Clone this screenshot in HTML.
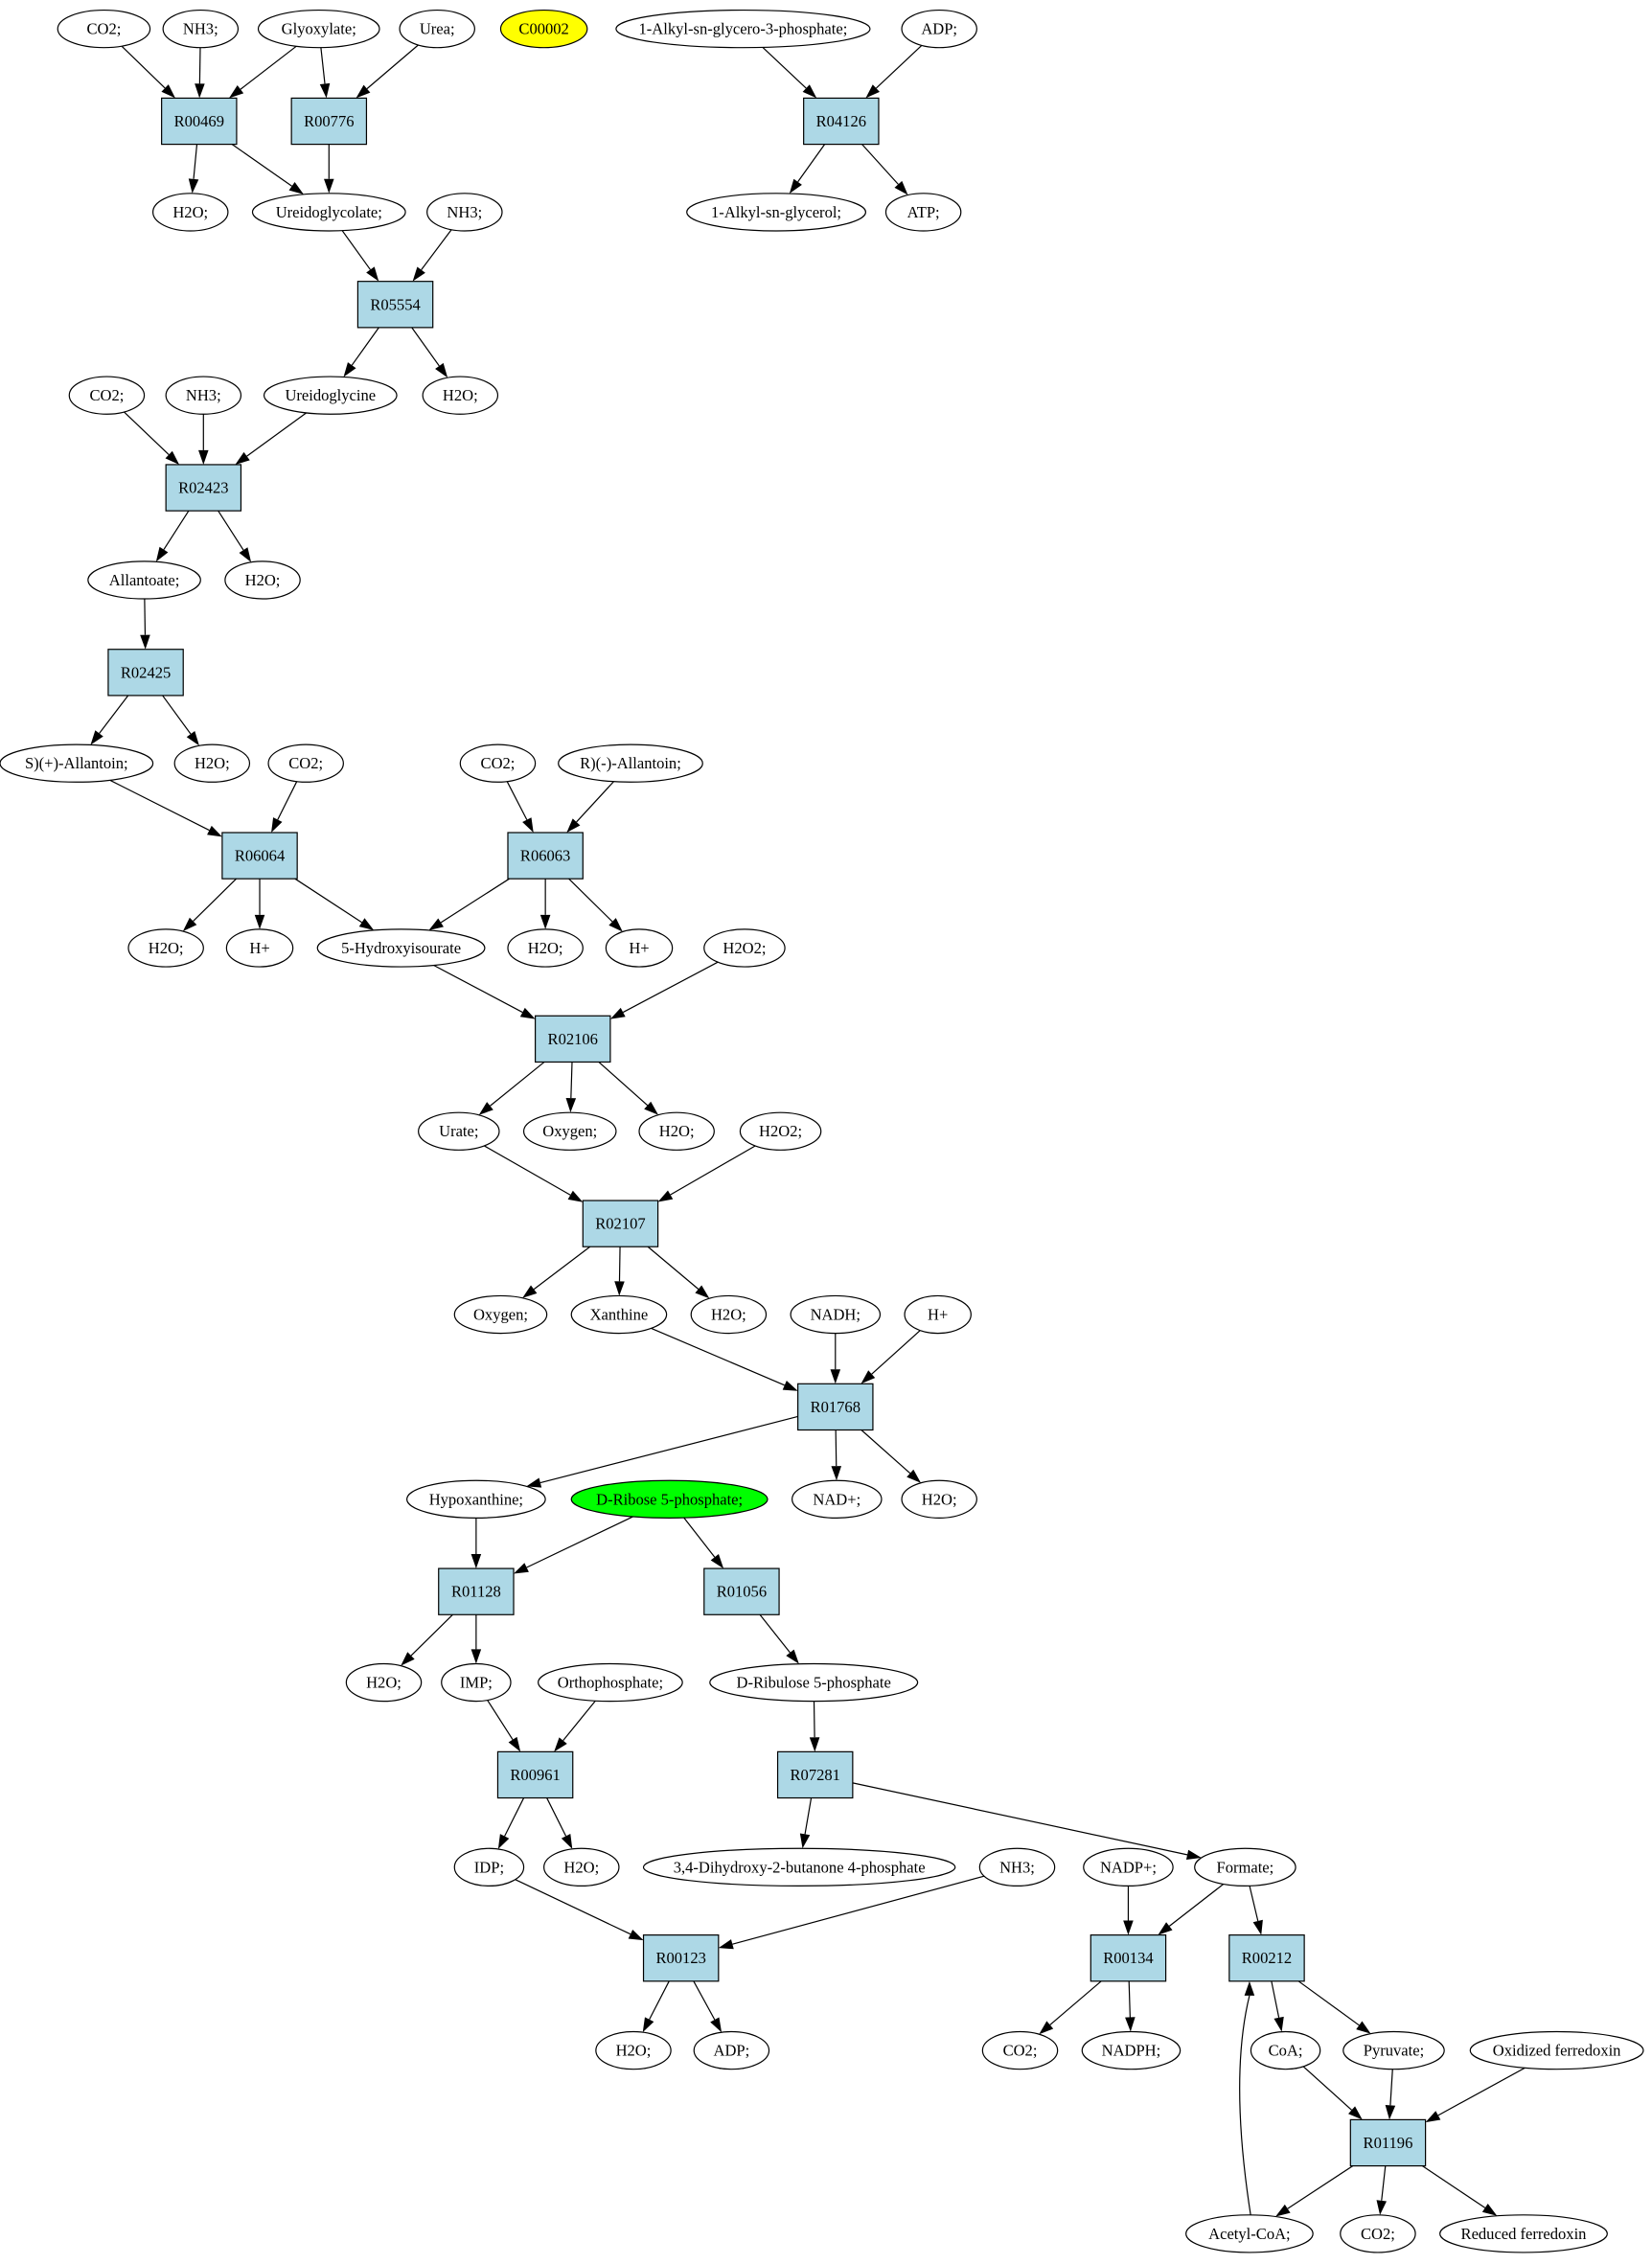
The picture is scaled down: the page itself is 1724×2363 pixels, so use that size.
<!DOCTYPE html>
<html><head><meta charset="utf-8"><style>
html,body{margin:0;padding:0;background:#fff}
svg{display:block}
text{font-family:"Liberation Serif",serif;font-size:11px;text-anchor:middle;dominant-baseline:central}
</style></head><body>
<svg id="s" width="1724" height="2363" viewBox="0 0 1145 1569" preserveAspectRatio="none" xmlns="http://www.w3.org/2000/svg"></svg>
<script>
const N={};
function E(id,x,y,rx,label,fill){N[id]={t:'e',x,y,rx,ry:13,label,fill:fill||'#fff'};}
function B(id,x,y){N[id]={t:'b',x,y,hw:26,hh:16,label:id,fill:'#add8e6'};}
E('co2a',72,20,32,'CO2;');E('nh3a',139,20,26,'NH3;');E('gly',221,20,42,'Glyoxylate;');E('urea',303,20,26,'Urea;');
E('c2',377,20,30,'C00002','#ffff00');E('akp',515,20,88,'1-Alkyl-sn-glycero-3-phosphate;');E('adpa',651,20,26,'ADP;');
B('R00469',138,84);B('R00776',228,84);B('R04126',583,84);
E('h2oa',132,147,26,'H2O;');E('ugc',228,147,53,'Ureidoglycolate;');E('nh3b',322,147,26,'NH3;');E('akg',538,147,62,'1-Alkyl-sn-glycerol;');E('atp',640,147,26,'ATP;');
B('R05554',274,211);
E('co2b',74,274,26,'CO2;');E('nh3c',141,274,26,'NH3;');E('ugy',229,274,46,'Ureidoglycine');E('h2ob',319,274,26,'H2O;');
B('R02423',141,338);
E('alla',100,402,39,'Allantoate;');E('h2oc',182,402,26,'H2O;');
B('R02425',101,466);
E('sall',53,529,53,'S)(+)-Allantoin;');E('h2od',147,529,26,'H2O;');E('co2c',212,529,26,'CO2;');E('co2d',345,529,26,'CO2;');E('rall',437,529,50,'R)(-)-Allantoin;');
B('R06064',180,593);B('R06063',378,593);
E('h2oe',115,657,26,'H2O;');E('hpa',180,657,23,'H+');E('hiu',278,657,58,'5-Hydroxyisourate');E('h2of',378,657,26,'H2O;');E('hpb',443,657,23,'H+');E('h2o2a',516,657,28,'H2O2;');
B('R02106',397,720);
E('urate',318,784,28,'Urate;');E('oxa',395,784,32,'Oxygen;');E('h2og',469,784,26,'H2O;');E('h2o2b',541,784,28,'H2O2;');
B('R02107',430,848);
E('oxb',347,911,32,'Oxygen;');E('xan',429,911,33,'Xanthine');E('h2oh',505,911,26,'H2O;');E('nadh',579,911,31,'NADH;');E('hpc',650,911,23,'H+');
B('R01768',579,975);
E('hyp',330,1039,48,'Hypoxanthine;');E('dr5p',464,1039,68,'D-Ribose 5-phosphate;','#00ff00');E('nad',580,1039,31,'NAD+;');E('h2oi',651,1039,26,'H2O;');
B('R01128',330,1103);B('R01056',514,1103);
E('h2oj',266,1166,26,'H2O;');E('imp',330,1166,24,'IMP;');E('orth',423,1166,50,'Orthophosphate;');E('dru',564,1166,72,'D-Ribulose 5-phosphate');
B('R00961',371,1230);B('R07281',565,1230);
E('idp',339,1294,24,'IDP;');E('h2ok',403,1294,26,'H2O;');E('dhb',554,1294,108,'3,4-Dihydroxy-2-butanone 4-phosphate');E('nh3d',705,1294,26,'NH3;');E('nadp',782,1294,31,'NADP+;');E('form',863,1294,35,'Formate;');
B('R00123',472,1357);B('R00134',782,1357);B('R00212',878,1357);
E('h2ol',439,1421,26,'H2O;');E('adpb',507,1421,26,'ADP;');E('co2e',707,1421,26,'CO2;');E('nadph',784,1421,34,'NADPH;');E('coa',891,1421,24,'CoA;');E('pyr',966,1421,35,'Pyruvate;');E('oxfd',1079,1421,60,'Oxidized ferredoxin');
B('R01196',962,1485);
E('acoa',866,1548,44,'Acetyl-CoA;');E('co2f',955,1548,26,'CO2;');E('rfd',1056,1548,58,'Reduced ferredoxin');
const ed=`co2a R00469,nh3a R00469,gly R00469,gly R00776,urea R00776,R00469 h2oa,R00469 ugc,R00776 ugc,akp R04126,adpa R04126,R04126 akg,R04126 atp,ugc R05554,nh3b R05554,R05554 ugy,R05554 h2ob,co2b R02423,nh3c R02423,ugy R02423,R02423 alla,R02423 h2oc,alla R02425,R02425 sall,R02425 h2od,sall R06064,co2c R06064,co2d R06063,rall R06063,R06064 h2oe,R06064 hpa,R06064 hiu,R06063 hiu,R06063 h2of,R06063 hpb,hiu R02106,h2o2a R02106,R02106 urate,R02106 oxa,R02106 h2og,urate R02107,h2o2b R02107,R02107 oxb,R02107 xan,R02107 h2oh,xan R01768,nadh R01768,hpc R01768,R01768 hyp,R01768 nad,R01768 h2oi,hyp R01128,dr5p R01128,dr5p R01056,R01128 h2oj,R01128 imp,R01056 dru,imp R00961,orth R00961,R00961 idp,R00961 h2ok,dru R07281,R07281 dhb,R07281 form,idp R00123,nh3d R00123,R00123 h2ol,R00123 adpb,nadp R00134,form R00134,R00134 co2e,R00134 nadph,form R00212,R00212 coa,R00212 pyr,coa R01196,pyr R01196,oxfd R01196,R01196 acoa,R01196 co2f,R01196 rfd,acoa R00212`.split(',');
function clip(n,dx,dy){let t;if(n.t=='e')t=1/Math.sqrt((dx/n.rx)**2+(dy/n.ry)**2);else t=Math.min(n.hw/Math.abs(dx||1e-9),n.hh/Math.abs(dy||1e-9));return [n.x+dx*t,n.y+dy*t];}
let s='';
for(const e of ed){const [a,b]=e.split(' ');const A=N[a],Bn=N[b];
 let dx=Bn.x-A.x,dy=Bn.y-A.y;
 let p=clip(A,dx,dy),q=clip(Bn,-dx,-dy);
 let ddx=q[0]-p[0],ddy=q[1]-p[1],L=Math.hypot(ddx,ddy),ux=ddx/L,uy=ddy/L;
 let bx=q[0]-ux*10,by=q[1]-uy*10;
 if(a=='acoa'){q=[Bn.x-12,Bn.y+16];bx=q[0];by=q[1]+10;ux=0;uy=-1;
  s+=`<path d="M${p[0]},${p[1]} Q852,1440 ${bx},${by}" fill="none" stroke="#000" stroke-width="0.8"/>`;}
 else s+=`<line x1="${p[0]}" y1="${p[1]}" x2="${bx}" y2="${by}" stroke="#000" stroke-width="0.8"/>`;
 let px=-uy*3.5,py=ux*3.5;
 s+=`<polygon points="${q[0]},${q[1]} ${bx+px},${by+py} ${bx-px},${by-py}" fill="#000"/>`;
}
for(const k in N){const n=N[k];
 if(n.t=='e')s+=`<ellipse cx="${n.x}" cy="${n.y}" rx="${n.rx}" ry="${n.ry}" fill="${n.fill}" stroke="#000" stroke-width="0.8"/>`;
 else s+=`<rect x="${n.x-n.hw}" y="${n.y-n.hh}" width="${n.hw*2}" height="${n.hh*2}" fill="${n.fill}" stroke="#000" stroke-width="0.8"/>`;
 s+=`<text x="${n.x}" y="${n.y}">${n.label}</text>`;}
document.getElementById('s').innerHTML=s;
</script>
</body></html>
